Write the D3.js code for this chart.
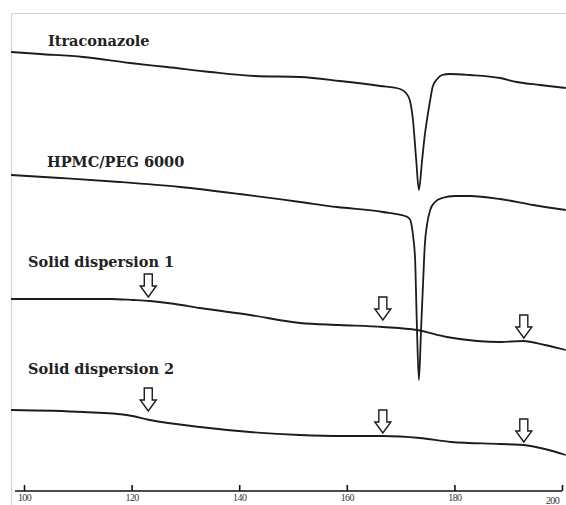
<!DOCTYPE html>
<html>
<head>
<meta charset="utf-8">
<script src="https://cdn.jsdelivr.net/npm/d3@7"></script>
<style>
  html, body { margin: 0; padding: 0; background: #fff; }
  svg { display: block; }
</style>
</head>
<body>
<svg id="chart"></svg>
<script>
// DSC thermograms: temperature (°C) vs heat flow (arbitrary units, curves offset)
const seriesNames = ["Itraconazole", "HPMC/PEG 6000", "Solid dispersion 1", "Solid dispersion 2"];

const itraconazole = [
  [97.6, 44.1], [103.0, 43.9], [111.0, 43.6], [119.7, 43.0], [126.6, 42.6], [134.6, 42.1],
  [142.9, 41.7], [151.3, 41.6], [158.7, 41.2], [166.2, 40.7], [169.9, 40.4], [171.0, 40.0],
  [171.7, 39.3], [172.3, 37.3], [172.9, 33.3], [173.4, 30.3], [174.0, 33.3], [174.5, 35.8],
  [174.9, 37.3], [175.5, 39.3], [176.0, 40.7], [176.8, 41.4], [177.7, 41.8], [179.2, 41.9],
  [182.9, 41.8], [188.5, 41.5], [191.6, 41.1], [195.9, 40.8], [200.7, 40.5]
];

const hpmcPeg = [
  [97.6, 31.8], [106.7, 31.5], [117.8, 31.1], [129.0, 30.6], [140.1, 29.9], [151.3, 29.1],
  [158.2, 28.6], [166.7, 28.1], [170.8, 27.7], [171.7, 27.4], [172.3, 25.8], [172.7, 23.3],
  [173.0, 17.3], [173.4, 11.3], [173.8, 16.3], [174.2, 21.3], [174.5, 24.8], [174.9, 26.8],
  [175.5, 28.3], [176.4, 29.1], [177.7, 29.5], [180.1, 29.7], [182.9, 29.7], [188.5, 29.4],
  [194.6, 28.8], [200.7, 28.3]
];

const solidDisp1 = [
  [97.6, 19.4], [106.7, 19.4], [116.0, 19.4], [120.3, 19.3], [123.4, 19.2], [128.1, 18.9],
  [132.7, 18.5], [142.0, 17.8], [151.3, 17.0], [158.7, 16.8], [166.7, 16.6], [173.0, 16.3],
  [178.6, 15.6], [184.2, 15.2], [188.5, 15.1], [192.8, 15.2], [196.8, 14.8], [200.7, 14.3]
];

const solidDisp2 = [
  [97.6, 8.3], [111.0, 8.1], [119.1, 7.8], [123.4, 7.3], [132.7, 6.6], [142.0, 6.1],
  [151.3, 5.8], [159.3, 5.7], [166.7, 5.7], [173.6, 5.5], [179.4, 5.1], [188.5, 4.9],
  [192.8, 4.8], [196.8, 4.4], [200.7, 3.8]
];

// transition markers (arrow tip: temperature, heat flow)
const arrows1 = [[123.1, 19.6], [166.7, 17.3], [192.9, 15.5]];
const arrows2 = [[123.1, 8.2], [166.7, 6.0], [192.9, 5.1]];

const xTicks = [100, 120, 140, 160, 180, 200];

// Layout
const width = 566, height = 505;
const svg = d3.select("#chart").attr("width", width).attr("height", height);

const x = d3.scaleLinear().domain([100, 200]).range([24, 562]);
const y = d3.scaleLinear().domain([0, 48]).range([493, 13]);

// light frame (top and left)
svg.append("line").attr("x1", 11).attr("x2", width).attr("y1", 13.5).attr("y2", 13.5)
  .attr("stroke", "#d4d4d4").attr("stroke-width", 1.2);
svg.append("line").attr("x1", 11.5).attr("x2", 11.5).attr("y1", 13).attr("y2", height)
  .attr("stroke", "#d4d4d4").attr("stroke-width", 1.2);

// curves
const line = d3.line()
  .x(d => x(d[0]))
  .y(d => y(d[1]))
  .curve(d3.curveMonotoneX);

[itraconazole, hpmcPeg, solidDisp1, solidDisp2].forEach(data => {
  svg.append("path")
    .datum(data)
    .attr("d", line)
    .attr("fill", "none")
    .attr("stroke", "#1c1c1c")
    .attr("stroke-width", 1.8)
    .attr("stroke-linejoin", "round");
});

// curve labels
const labelPos = [[48, 46], [47, 167], [28, 267], [28, 374]];
svg.selectAll(".lbl")
  .data(seriesNames)
  .join("text")
  .attr("class", "lbl")
  .attr("x", (d, i) => labelPos[i][0])
  .attr("y", (d, i) => labelPos[i][1])
  .attr("font-family", "'DejaVu Serif', serif")
  .attr("font-weight", "bold")
  .attr("font-size", "14.5px")
  .attr("fill", "#222")
  .text(d => d);

// hollow down arrows
const arrowPath = "M -4,-23 H 4 V -11 H 8 L 0,0 L -8,-11 H -4 Z";
svg.selectAll(".arrow")
  .data(arrows1.concat(arrows2))
  .join("path")
  .attr("class", "arrow")
  .attr("d", arrowPath)
  .attr("transform", d => `translate(${x(d[0])},${y(d[1])})`)
  .attr("fill", "#fff")
  .attr("stroke", "#1c1c1c")
  .attr("stroke-width", 1.4)
  .attr("stroke-linejoin", "miter");

// x axis with ticks pointing up
const axisY = 491;
const axis = d3.axisBottom(x)
  .tickValues(xTicks)
  .tickSizeInner(-6)
  .tickSizeOuter(0)
  .tickPadding(3)
  .tickFormat(d3.format("d"));

const gAxis = svg.append("g")
  .attr("transform", `translate(0,${axisY})`)
  .call(axis);

gAxis.select(".domain").remove();
gAxis.append("line")
  .attr("x1", x.range()[0] - 9).attr("x2", x.range()[1])
  .attr("stroke", "#111").attr("stroke-width", 1.6);
gAxis.selectAll(".tick line").attr("stroke", "#111").attr("stroke-width", 1.6);
gAxis.selectAll(".tick text")
  .attr("font-family", "'Liberation Serif', serif")
  .attr("font-size", "10px")
  .attr("letter-spacing", "-0.6px")
  .attr("fill", "#333");
gAxis.selectAll(".tick text").filter(d => d === 200)
  .attr("dx", -10).attr("dy", "1.0em");
</script>
</body>
</html>
